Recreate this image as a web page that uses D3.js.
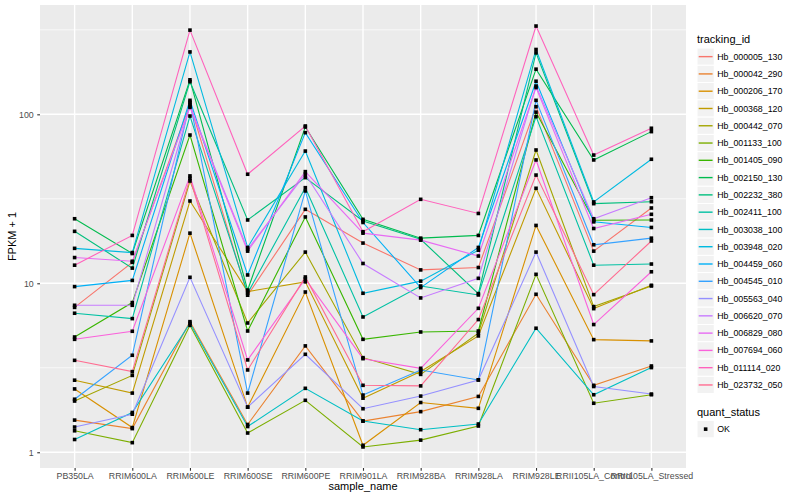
<!DOCTYPE html>
<html>
<head>
<meta charset="utf-8">
<script src="https://cdn.jsdelivr.net/npm/d3@7"></script>
<style>
body { margin: 0; background: #ffffff; }
text { font-family: "Liberation Sans", Arial, Helvetica, sans-serif; }
</style>
</head>
<body>
<svg id="chart"></svg>
<script>
// samples on the x axis
const sample_names = ["PB350LA", "RRIM600LA", "RRIM600LE", "RRIM600SE", "RRIM600PE", "RRIM901LA",
    "RRIM928BA", "RRIM928LA", "RRIM928LE", "RRII105LA_Control", "RRII105LA_Stressed"];

const tracking_ids = ["Hb_000005_130", "Hb_000042_290", "Hb_000206_170", "Hb_000368_120", "Hb_000442_070",
    "Hb_001133_100", "Hb_001405_090", "Hb_002150_130", "Hb_002232_380", "Hb_002411_100",
    "Hb_003038_100", "Hb_003948_020", "Hb_004459_060", "Hb_004545_010", "Hb_005563_040",
    "Hb_006620_070", "Hb_006829_080", "Hb_007694_060", "Hb_011114_020", "Hb_023732_050"];

// FPKM + 1 per gene, in sample_names order
const Hb_000005_130 = [7.2, 13.3, 115, 8.5, 27.4, 17.3, 12.0, 12.4, 111, 15.5, 27.9];
const Hb_000042_290 = [1.55, 1.38, 5.93, 1.46, 4.26, 1.53, 1.74, 2.14, 8.61, 2.49, 3.24];
const Hb_000206_170 = [2.37, 1.40, 19.8, 1.85, 8.88, 1.10, 1.97, 1.82, 22.0, 4.64, 4.56];
const Hb_000368_120 = [2.67, 2.24, 30.7, 8.93, 10.2, 2.09, 3.01, 4.88, 36.5, 7.08, 9.73];
const Hb_000442_070 = [2.01, 2.85, 40.3, 5.82, 15.3, 3.63, 2.89, 5.06, 61.5, 7.28, 9.64];
const Hb_001133_100 = [1.34, 1.14, 5.64, 1.30, 2.03, 1.075, 1.18, 1.43, 11.3, 1.95, 2.19];
const Hb_001405_090 = [4.81, 7.69, 75.4, 5.22, 24.7, 4.66, 5.15, 5.22, 103, 23.6, 23.7];
const Hb_002150_130 = [24.1, 15.0, 160, 9.12, 84.1, 23.9, 18.5, 19.2, 185, 53.7, 79.0];
const Hb_002232_380 = [20.3, 12.3, 156, 23.7, 42.2, 23.4, 18.2, 8.69, 231, 29.6, 30.4];
const Hb_002411_100 = [6.65, 6.18, 97.7, 8.73, 36.8, 6.32, 9.64, 8.53, 96.9, 12.8, 13.0];
const Hb_003038_100 = [1.19, 1.72, 5.80, 1.42, 2.39, 1.53, 1.36, 1.47, 5.42, 2.19, 3.17];
const Hb_003948_020 = [16.1, 15.2, 234, 16.3, 60.6, 8.73, 10.3, 15.7, 242, 30.3, 54.2];
const Hb_004459_060 = [9.56, 10.4, 121, 11.2, 77.9, 22.9, 9.43, 16.3, 157, 23.1, 21.4];
const Hb_004545_010 = [2.06, 3.75, 118, 2.24, 35.2, 2.18, 3.07, 2.68, 121, 16.9, 18.5];
const Hb_005563_040 = [1.41, 1.68, 10.85, 1.85, 3.80, 1.81, 2.15, 2.68, 15.3, 2.45, 2.21];
const Hb_006620_070 = [7.41, 7.41, 112, 15.9, 44.2, 13.1, 8.19, 10.7, 147, 24.1, 32.1];
const Hb_006829_080 = [14.2, 13.5, 110, 15.5, 45.8, 19.8, 18.0, 14.5, 144, 21.1, 25.6];
const Hb_007694_060 = [4.66, 5.20, 43.2, 3.52, 10.6, 3.58, 3.14, 7.11, 53.7, 5.70, 11.7];
const Hb_011114_020 = [12.8, 19.2, 315, 44.2, 85.3, 20.2, 31.4, 25.9, 333, 57.4, 82.7];
const Hb_023732_050 = [3.50, 3.00, 41.8, 3.07, 10.9, 2.49, 2.47, 6.10, 43.7, 8.57, 17.8];

const series_values = [Hb_000005_130, Hb_000042_290, Hb_000206_170, Hb_000368_120, Hb_000442_070,
    Hb_001133_100, Hb_001405_090, Hb_002150_130, Hb_002232_380, Hb_002411_100,
    Hb_003038_100, Hb_003948_020, Hb_004459_060, Hb_004545_010, Hb_005563_040,
    Hb_006620_070, Hb_006829_080, Hb_007694_060, Hb_011114_020, Hb_023732_050];

const y_breaks = [1, 10, 100];
const quant_status = ["OK"];

// default ggplot hue palette for 20 levels
let colour = ["#F8766D", "#EA8331", "#D89000", "#C09B00", "#A3A500", "#7CAE00", "#39B600", "#00BB4E",
    "#00BF7D", "#00C1A3", "#00BFC4", "#00BAE0", "#00B0F6", "#35A2FF", "#9590FF", "#C77CFF",
    "#E76BF3", "#FA62DB", "#FF62BC", "#FF6C91"];

var canvas_width = 800;
var canvas_height = 500;
var panel_left = 40;
var panel_right = 686;
var panel_top = 5;
var panel_bottom = 468;
var legend_left = 697;
var key_size = 17.28;

let svg = d3.select("#chart");
svg.attr("width", canvas_width).attr("height", canvas_height);

let x = d3.scalePoint()
    .domain(sample_names)
    .range([panel_left, panel_right])
    .padding(0.6);

// log scale with ggplot's 5% expansion on the transformed range
let all_values = series_values.flat();
let lo = Math.log10(d3.min(all_values));
let hi = Math.log10(d3.max(all_values));
let pad = (hi - lo) * 0.05;
let y = d3.scaleLog()
    .domain([Math.pow(10, lo - pad), Math.pow(10, hi + pad)])
    .range([panel_bottom, panel_top]);

let y_minor = y_breaks.map(d => d * Math.sqrt(10))
    .filter(d => d >= y.domain()[0] && d <= y.domain()[1]);

svg.append("rect")
    .attr("x", panel_left)
    .attr("y", panel_top)
    .attr("width", panel_right - panel_left)
    .attr("height", panel_bottom - panel_top)
    .attr("fill", "#EBEBEB");

svg.selectAll(".grid-minor")
    .data(y_minor)
    .join("line")
    .attr("class", "grid-minor")
    .attr("x1", panel_left)
    .attr("x2", panel_right)
    .attr("y1", d => y(d))
    .attr("y2", d => y(d))
    .attr("stroke", "white")
    .attr("stroke-width", 0.7);

svg.selectAll(".grid-major-y")
    .data(y_breaks)
    .join("line")
    .attr("class", "grid-major-y")
    .attr("x1", panel_left)
    .attr("x2", panel_right)
    .attr("y1", d => y(d))
    .attr("y2", d => y(d))
    .attr("stroke", "white")
    .attr("stroke-width", 1.4);

svg.selectAll(".grid-major-x")
    .data(sample_names)
    .join("line")
    .attr("class", "grid-major-x")
    .attr("x1", d => x(d))
    .attr("x2", d => x(d))
    .attr("y1", panel_top)
    .attr("y2", panel_bottom)
    .attr("stroke", "white")
    .attr("stroke-width", 1.4);

let line = d3.line()
    .x((d, i) => x(sample_names[i]))
    .y(d => y(d));

svg.selectAll(".gene-line")
    .data(series_values)
    .join("path")
    .attr("class", "gene-line")
    .attr("d", d => line(d))
    .attr("fill", "none")
    .attr("stroke", (d, i) => colour[i])
    .attr("stroke-width", 1.1);

// points, one per gene and sample
let points = [];
series_values.forEach((vals, gi) => {
    vals.forEach((v, si) => points.push({"gene": gi, "sample": sample_names[si], "value": v}));
});

svg.selectAll(".gene-point")
    .data(points)
    .join("rect")
    .attr("class", "gene-point")
    .attr("x", d => x(d.sample) - 1.8)
    .attr("y", d => y(d.value) - 1.8)
    .attr("width", 3.6)
    .attr("height", 3.6)
    .attr("fill", "black");

// axes
let y_axis = svg.append("g")
    .attr("transform", "translate(" + panel_left + ",0)")
    .call(d3.axisLeft(y).tickValues(y_breaks).tickFormat(d3.format("d")).tickSize(2.75).tickPadding(3.5));

let x_axis = svg.append("g")
    .attr("transform", "translate(0," + panel_bottom + ")")
    .call(d3.axisBottom(x).tickSize(2.75).tickPadding(2.2));

[y_axis, x_axis].forEach(g => {
    g.select(".domain").remove();
    g.selectAll(".tick line").attr("stroke", "#333333").attr("stroke-width", 1.1);
    g.selectAll(".tick text")
        .attr("fill", "#4D4D4D")
        .style("font-size", "8.8px");
});

svg.append("text")
    .attr("x", (panel_left + panel_right) / 2)
    .attr("y", 490)
    .attr("text-anchor", "middle")
    .style("font-size", "11px")
    .attr("fill", "black")
    .text("sample_name");

svg.append("text")
    .attr("transform", "translate(16," + (panel_top + panel_bottom) / 2 + ") rotate(-90)")
    .attr("text-anchor", "middle")
    .style("font-size", "11px")
    .attr("fill", "black")
    .text("FPKM + 1");

// legend: tracking_id
svg.append("text")
    .attr("x", legend_left)
    .attr("y", 43)
    .style("font-size", "11px")
    .text("tracking_id");

let key_top = 48;
let keys = svg.selectAll(".legend-key")
    .data(tracking_ids)
    .join("g")
    .attr("class", "legend-key")
    .attr("transform", (d, i) => "translate(" + legend_left + "," + (key_top + i * key_size) + ")");

keys.append("rect")
    .attr("width", key_size)
    .attr("height", key_size)
    .attr("fill", "#F2F2F2")
    .attr("stroke", "white")
    .attr("stroke-width", 1);

keys.append("line")
    .attr("x1", 1.7)
    .attr("x2", key_size - 1.7)
    .attr("y1", key_size / 2)
    .attr("y2", key_size / 2)
    .attr("stroke", (d, i) => colour[i])
    .attr("stroke-width", 1.4);

keys.append("text")
    .attr("x", key_size + 3)
    .attr("y", key_size / 2)
    .attr("dy", "0.35em")
    .style("font-size", "8.8px")
    .attr("fill", "black")
    .text(d => d);

// legend: quant_status
svg.append("text")
    .attr("x", legend_left)
    .attr("y", 416)
    .style("font-size", "11px")
    .text("quant_status");

let status_keys = svg.selectAll(".status-key")
    .data(quant_status)
    .join("g")
    .attr("class", "status-key")
    .attr("transform", (d, i) => "translate(" + legend_left + "," + (420.5 + i * key_size) + ")");

status_keys.append("rect")
    .attr("width", key_size)
    .attr("height", key_size)
    .attr("fill", "#F2F2F2")
    .attr("stroke", "white");

status_keys.append("rect")
    .attr("x", key_size / 2 - 1.8)
    .attr("y", key_size / 2 - 1.8)
    .attr("width", 3.6)
    .attr("height", 3.6)
    .attr("fill", "black");

status_keys.append("text")
    .attr("x", key_size + 3)
    .attr("y", key_size / 2)
    .attr("dy", "0.35em")
    .style("font-size", "8.8px")
    .text(d => d);
</script>
</body>
</html>
